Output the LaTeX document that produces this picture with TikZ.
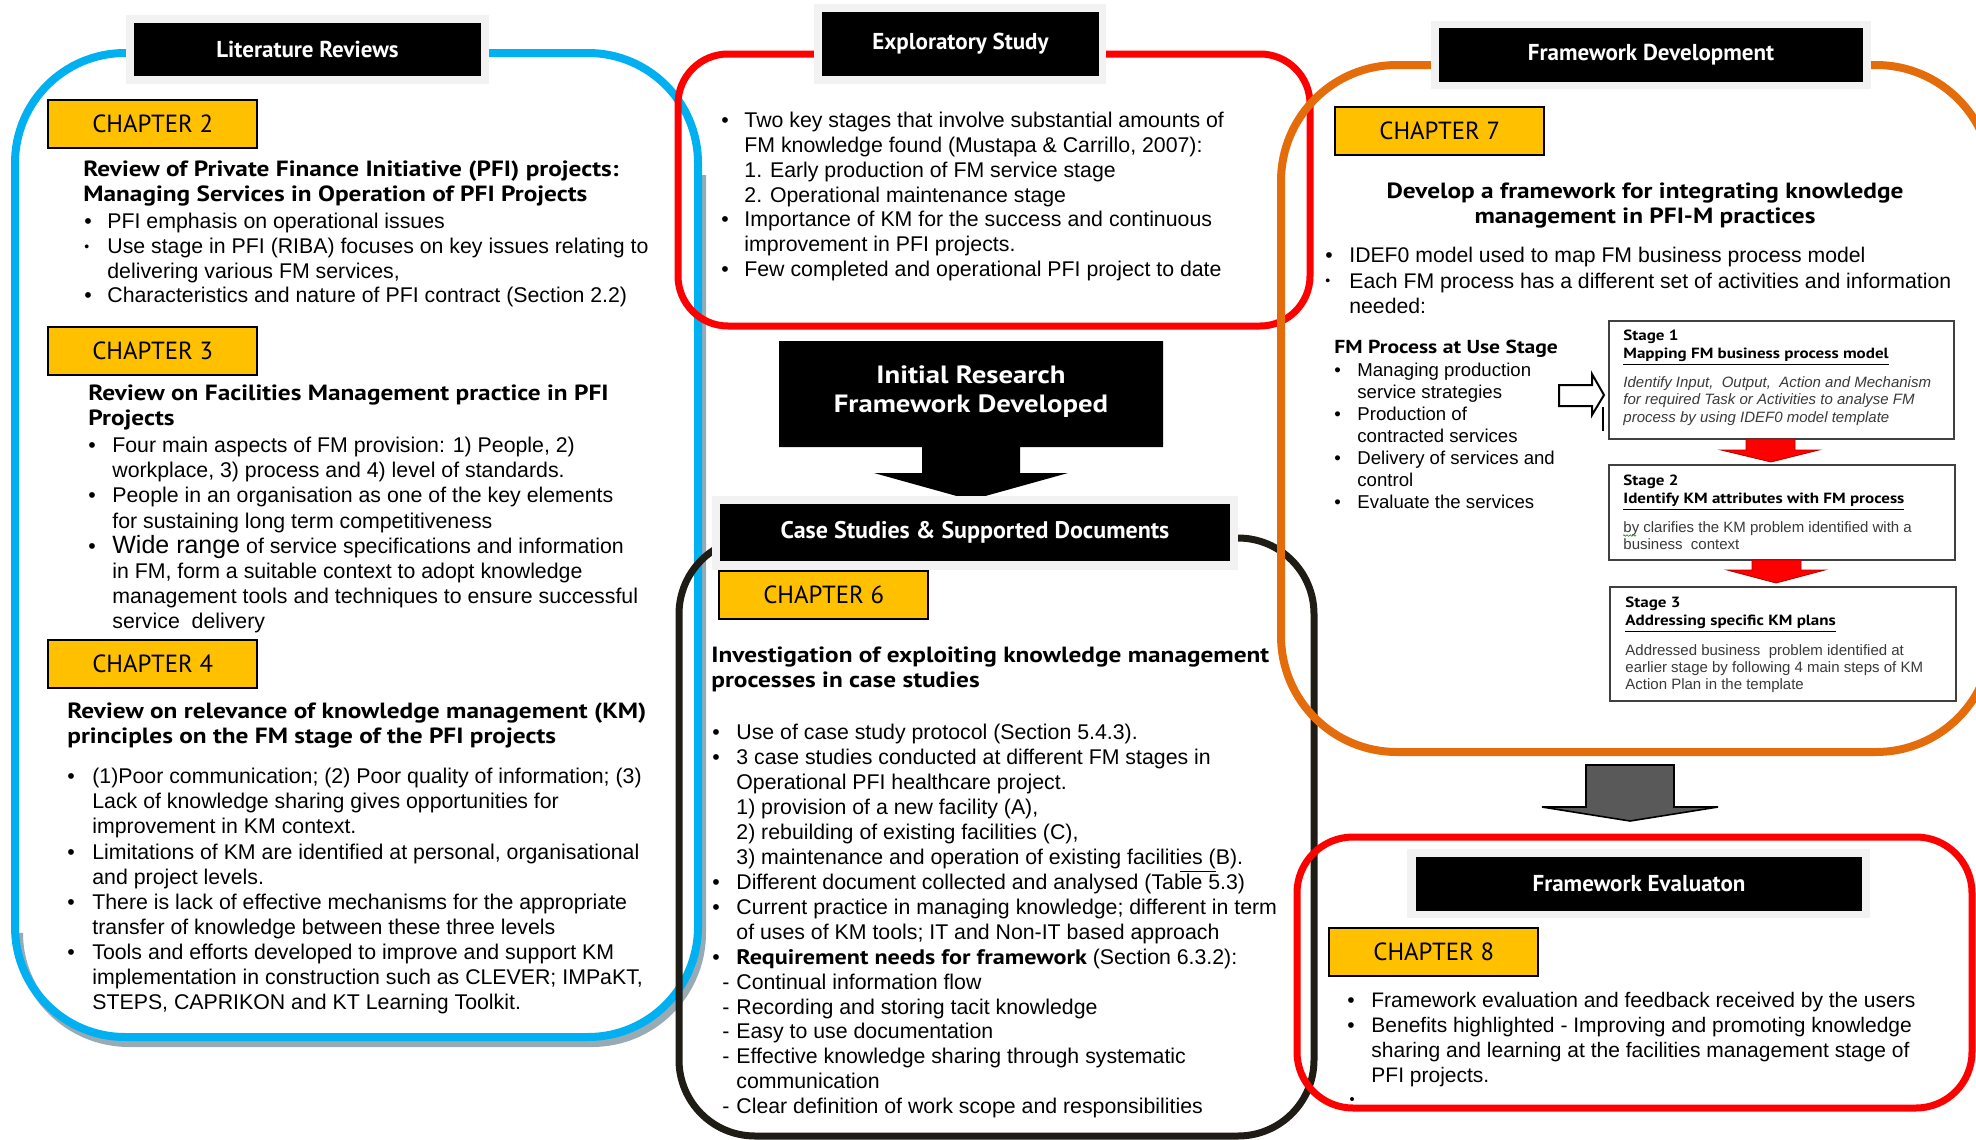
\documentclass[tikz,border=0pt]{standalone}
\usepackage{fontspec}
\setmainfont{Liberation Sans}
\newfontfamily\hdfont{PT Sans}
\newfontfamily\hdwide{PT Sans}[FakeStretch=1.15]
\usetikzlibrary{decorations.pathmorphing}

\definecolor{lrblue}{HTML}{00B0F0}
\definecolor{exred}{HTML}{FF0000}
\definecolor{fdorange}{HTML}{E46C0A}
\definecolor{csdark}{HTML}{1E1C14}
\definecolor{chyellow}{HTML}{FFC000}
\definecolor{hdrframe}{HTML}{F2F2F2}
\definecolor{blueshadow}{HTML}{98ABB5}
\definecolor{arrowgray}{HTML}{595959}
\definecolor{stagegray}{HTML}{404040}
\definecolor{stagetext}{HTML}{3A3A3A}

% first-line strut: the top of a text block sits 1em above its first baseline
\newcommand\fl{\rule{0pt}{1em}}
\newlength\bw
\newcommand\bul{\makebox[\bw][l]{\textbullet}}
\newcommand\sbul{\makebox[\bw][l]{\raisebox{0.1em}{\fontsize{7}{7}\selectfont\textbullet}}}
\newcommand\ind{\hspace*{\bw}}
\newcommand\dsh{\hspace*{5pt}\makebox[7pt][l]{-}}

\begin{document}
\begin{tikzpicture}[x=0.5pt,y=-0.5pt,
  txt/.style={anchor=north west, inner sep=0pt, align=left},
  hdframe/.style={fill=hdrframe, inner sep=0pt},
  hdblack/.style={fill=black, inner sep=0pt, text=white,
    font=\hdfont\bfseries\fontsize{11.5}{13}\selectfont},
  chap/.style={draw=black, line width=1.2pt, fill=chyellow, inner sep=0pt,
    minimum width=104.5pt, minimum height=24pt, anchor=north west,
    font=\hdfont\fontsize{12.4}{12.4}\selectfont},
  heading/.style={txt, font=\hdwide\bfseries\fontsize{11}{12.5}\selectfont},
  stagebox/.style={draw=stagegray, line width=0.8pt, fill=white, inner sep=0pt, anchor=north west},
  stagetitle/.style={txt, font=\hdwide\bfseries\fontsize{7.4}{9}\selectfont},
  stagebody/.style={txt, text=stagetext, font=\fontsize{7.5}{8.6}\selectfont},
  redarrow/.style={fill=exred, draw=exred!70!black, line width=0.4pt}
]
\useasboundingbox (0,0) rectangle (1976,1140);

% ---------- panel outlines ----------
\draw[blueshadow, line width=4pt, rounded corners=55pt]
  (702,175) -- (702,1043) -- (19,1043) -- (19,935);
\draw[lrblue, line width=4pt, rounded corners=55pt] (15,53) rectangle (698,1037);
\draw[csdark, line width=3.5pt, rounded corners=38pt] (679,538) rectangle (1314,1136);
\draw[exred, line width=3.5pt, rounded corners=25pt] (678,54) rectangle (1310,326);
\draw[fdorange, line width=4pt, rounded corners=58pt] (1281,65) rectangle (1992,752);
\draw[exred, line width=3.5pt, rounded corners=28pt] (1297,837) rectangle (1972,1108);

% ---------- initial research framework callout ----------
\fill[black] (779,341) -- (1163,341) -- (1163,447) -- (1020,447) -- (1020,473)
  -- (1068,473) -- (971,500) -- (874,473) -- (922,473) -- (922,447) -- (779,447) -- cycle;
\node[text=white, align=center, inner sep=0pt,
  font=\hdwide\bfseries\fontsize{12.5}{14.5}\selectfont] (initial) at (971,392)
  {Initial Research\\Framework Developed};

% ---------- section headers ----------
\node[hdframe, minimum width=181.5pt, minimum height=34.5pt] (litframe) at (307.5,49.5) {};
\node[hdblack, minimum width=173.5pt, minimum height=26.5pt] (lithead) at (307.5,49.5) {Literature Reviews};

\node[hdframe, minimum width=146pt, minimum height=40pt] (expframe) at (960,44) {};
\node[hdblack, minimum width=138.5pt, minimum height=32pt] (exphead) at (960.5,44) {Exploratory Study};

\node[hdframe, minimum width=220pt, minimum height=34pt] (fdframe) at (1651,55) {};
\node[hdblack, minimum width=212pt, minimum height=27pt] (fdhead) at (1651,55) {Framework Development};

\node[hdframe, minimum width=263pt, minimum height=37pt] (csframe) at (975,533) {};
\node[hdblack, minimum width=255pt, minimum height=28.5pt,
  font=\hdfont\bfseries\fontsize{12}{13}\selectfont] (cshead) at (975,532.5) {Case Studies \& Supported Documents};

\node[hdframe, minimum width=231.5pt, minimum height=34.5pt] (feframe) at (1638.5,883.5) {};
\node[hdblack, minimum width=223pt, minimum height=27pt] (fehead) at (1639,884) {Framework Evaluaton};

% ---------- chapter labels ----------
\node[chap] (ch2) at (47,99) {CHAPTER 2};
\node[chap] (ch3) at (47,326) {CHAPTER 3};
\node[chap] (ch4) at (47,639) {CHAPTER 4};
\node[chap] (ch6) at (718,570) {CHAPTER 6};
\node[chap] (ch7) at (1334,106) {CHAPTER 7};
\node[chap] (ch8) at (1328,927) {CHAPTER 8};

% ---------- literature reviews ----------
\node[heading] (ch2head) at (83,154)
  {\fl Review of Private Finance Initiative (PFI) projects:\\
   Managing Services in Operation of PFI Projects};
\node[txt, font={\fontsize{10.65}{12.35}\selectfont\setlength\bw{11.5pt}}] (ch2list) at (84,207)
  {\fl\bul PFI emphasis on operational issues\\
   \sbul Use stage in PFI (RIBA) focuses on key issues relating to\\
   \ind delivering various FM services,\\
   \bul Characteristics and nature of PFI contract (Section 2.2)};

\node[heading] (ch3head) at (88,378)
  {\fl Review on Facilities Management practice in PFI\\
   Projects};
\node[txt, font={\fontsize{10.65}{12.55}\selectfont\setlength\bw{12pt}}] (ch3list) at (88,431)
  {\fl\bul Four main aspects of FM provision: 1) People, 2)\\
   \ind workplace, 3) process and 4) level of standards.\\
   \bul People in an organisation as one of the key elements\\
   \ind for sustaining long term competitiveness\\
   \bul {\fontsize{12.5}{12.55}\selectfont Wide range} of service specifications and information\\
   \ind in FM, form a suitable context to adopt knowledge\\
   \ind management tools and techniques to ensure successful\\
   \ind service\ \ delivery};

\node[heading] (ch4head) at (67,696)
  {\fl Review on relevance of knowledge management (KM)\\
   principles on the FM stage of the PFI projects};
\node[txt, font={\fontsize{10.65}{12.55}\selectfont\setlength\bw{12.5pt}}] (ch4list) at (67,762)
  {\fl\bul (1)Poor communication; (2) Poor quality of information; (3)\\
   \ind Lack of knowledge sharing gives opportunities for\\
   \ind improvement in KM context.\\
   \bul Limitations of KM are identified at personal, organisational\\
   \ind and project levels.\\
   \bul There is lack of effective mechanisms for the appropriate\\
   \ind transfer of knowledge between these three levels\\
   \bul Tools and efforts developed to improve and support KM\\
   \ind implementation in construction such as CLEVER; IMPaKT,\\
   \ind STEPS, CAPRIKON and KT Learning Toolkit.};

% ---------- exploratory study ----------
\node[txt, font={\fontsize{10.65}{12.4}\selectfont\setlength\bw{11.5pt}}] (explist) at (721,106)
  {\fl\bul Two key stages that involve substantial amounts of\\
   \ind FM knowledge found (Mustapa \& Carrillo, 2007):\\
   \ind 1. Early production of FM service stage\\
   \ind 2. Operational maintenance stage\\
   \bul Importance of KM for the success and continuous\\
   \ind improvement in PFI projects.\\
   \bul Few completed and operational PFI project to date};

% ---------- case studies ----------
\node[heading] (ch6head) at (711,640)
  {\fl Investigation of exploiting knowledge management\\
   processes in case studies};
\node[txt, font={\fontsize{10.65}{12.47}\selectfont\setlength\bw{12pt}}] (ch6list) at (712,718)
  {\fl\bul Use of case study protocol (Section 5.4.3).\\
   \bul 3 case studies conducted at different FM stages in\\
   \ind Operational PFI healthcare project.\\
   \ind 1) provision of a new facility (A),\\
   \ind 2) rebuilding of existing facilities (C),\\
   \ind 3) maintenance and operation of existing faciliti\underline{es (}B).\\
   \bul Different document collected and analysed (Table 5.3)\\
   \bul Current practice in managing knowledge; different in term\\
   \ind of uses of KM tools; IT and Non-IT based approach\\
   \bul {\hdwide\bfseries\fontsize{10.5}{12.47}\selectfont Requirement needs for framework} (Section 6.3.2):\\
   \dsh Continual information flow\\
   \dsh Recording and storing tacit knowledge\\
   \dsh Easy to use documentation\\
   \dsh Effective knowledge sharing through systematic\\
   \ind communication\\
   \dsh Clear definition of work scope and responsibilities};

% ---------- framework development ----------
\node[anchor=north, inner sep=0pt, align=center,
  font=\hdwide\bfseries\fontsize{11}{12.5}\selectfont] (ch7head) at (1645,176)
  {\fl Develop a framework for integrating knowledge\\
   management in PFI-M practices};
\node[txt, font={\fontsize{10.6}{12.75}\selectfont\setlength\bw{12pt}}] (ch7list) at (1325,241)
  {\fl\bul IDEF0 model used to map FM business process model\\
   \sbul Each FM process has a different set of activities and information\\
   \ind needed:};
\node[txt, font=\hdwide\bfseries\fontsize{9.4}{11}\selectfont] (fmhead) at (1334,334)
  {\fl FM Process at Use Stage};
\node[txt, font={\fontsize{9.3}{11}\selectfont\setlength\bw{11.5pt}}] (fmlist) at (1334,357.4)
  {\fl\bul Managing production\\
   \ind service strategies\\
   \bul Production of\\
   \ind contracted services\\
   \bul Delivery of services and\\
   \ind control\\
   \bul Evaluate the services};

% hollow arrow from the process list into the stages
\draw[black, line width=1pt, fill=white] (1559,385) -- (1592,385) -- (1592,374) -- (1604,395)
  -- (1592,415) -- (1592,406) -- (1559,406) -- cycle;
\draw[black, line width=0.8pt] (1603,407) -- (1603,431);

% stage boxes
\node[stagebox, minimum width=172.5pt, minimum height=59pt] (stage1) at (1608,320) {};
\node[stagebox, minimum width=173pt, minimum height=47.5pt] (stage2) at (1608,464) {};
\node[stagebox, minimum width=173pt, minimum height=57pt] (stage3) at (1609,586) {};

\node[stagetitle] (s1title) at (1623,325)
  {\fl Stage 1\\ \underline{Mapping FM business process model}};
\node[stagebody, font=\itshape\fontsize{7.5}{8.7}\selectfont] (s1body) at (1623,372)
  {\fl Identify Input,\ \ Output,\ \ Action and Mechanism\\
   for required Task or Activities to analyse FM\\
   process by using IDEF0 model template};

\node[stagetitle] (s2title) at (1623,470)
  {\fl Stage 2\\ \underline{Identify KM attributes with FM process}};
\node[stagebody] (s2body) at (1623,517)
  {\fl by clarifies the KM problem identified with a\\
   business\ \ context};
\draw[green!55!black, line width=0.3pt, decorate,
  decoration={zigzag, amplitude=0.4pt, segment length=1.6pt}] (1623,535.5) -- (1636,535.5);

\node[stagetitle] (s3title) at (1625,592)
  {\fl Stage 3\\ \underline{Addressing specific KM plans}};
\node[stagebody] (s3body) at (1625,640)
  {\fl Addressed business\ \ problem identified\ at\\
   earlier stage by following 4 main steps\ of KM\\
   Action Plan in the template};

% red block arrows between the stages
\draw[redarrow] (1746,439) -- (1795,439) -- (1795,450) -- (1819,450) -- (1771,462)
  -- (1721,450) -- (1746,450) -- cycle;
\draw[redarrow] (1752,560) -- (1801,560) -- (1801,570) -- (1825,570) -- (1776,583)
  -- (1727,570) -- (1752,570) -- cycle;

% grey block arrow down to the evaluation panel
\draw[black, line width=0.8pt, fill=arrowgray] (1586,765) -- (1674,765) -- (1674,807)
  -- (1718,807) -- (1630,821) -- (1542,807) -- (1586,807) -- cycle;

% ---------- framework evaluation ----------
\node[txt, font={\fontsize{10.5}{12.5}\selectfont\setlength\bw{12pt}}] (ch8list) at (1347,986)
  {\fl\bul Framework evaluation and feedback received by the users\\
   \bul Benefits highlighted - Improving and promoting knowledge\\
   \ind sharing and learning at the facilities management stage of\\
   \ind PFI projects.};
\fill[black] (1352,1099) circle (1pt);

\end{tikzpicture}
\end{document}
